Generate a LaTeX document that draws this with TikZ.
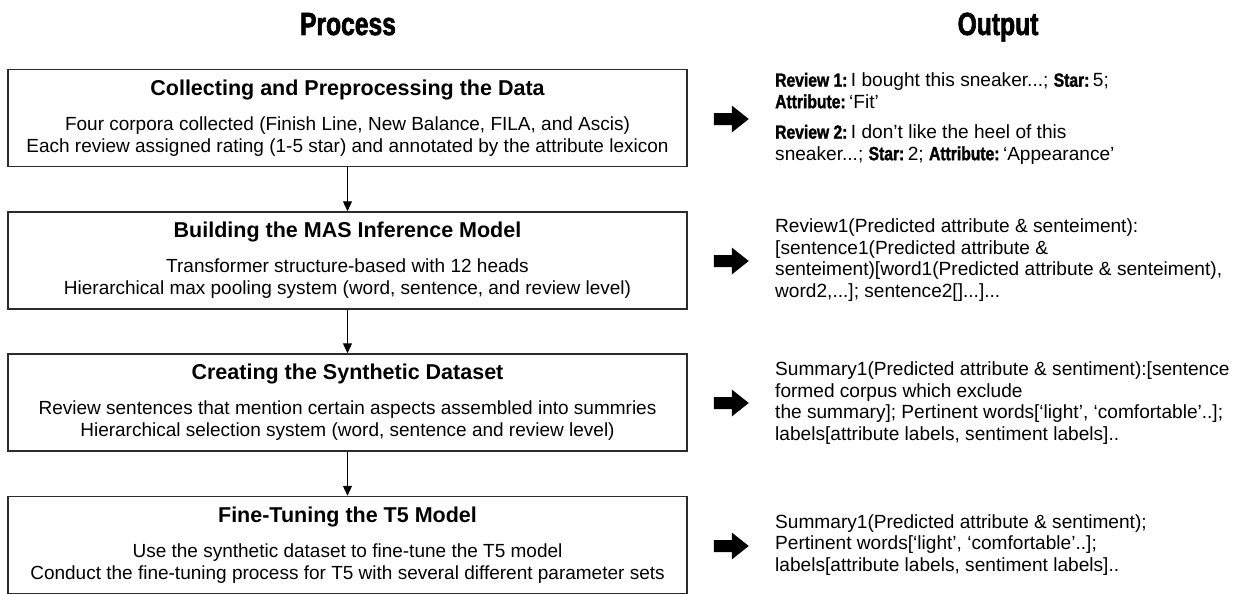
\documentclass[tikz,border=0pt]{standalone}
\usepackage{fontspec}
\setmainfont{Liberation Sans}
\newfontfamily\condf{Liberation Sans}[FakeStretch=0.82,FakeBold=1.5]
\newfontfamily\headf{Liberation Sans}[FakeStretch=0.77,FakeBold=2]
\usetikzlibrary{arrows.meta,calc}
\definecolor{boxgray}{HTML}{2B2B2B}
\newcommand\ttl[1]{{\fontsize{21.5}{22}\selectfont\bfseries #1}}
\newcommand\lb[1]{{\condf\bfseries #1}\hspace{3.5pt}}
\tikzset{
  procbox/.style={draw=boxgray, line width=1.5pt, minimum width=679pt, minimum height=97pt,
    align=center, inner sep=0pt, font=\fontsize{19}{22}\selectfont},
  flow/.style={draw=black, line width=1.2pt, -{Triangle[length=10pt,width=9pt]}},
  outtext/.style={anchor=west, align=left, inner sep=0pt, font=\fontsize{19.1}{21.5}\selectfont},
  header/.style={anchor=base, inner sep=0pt, font=\headf\bfseries\fontsize{32}{36}\selectfont},
  blockarrow/.pic={\fill[black] (0,-6) -- (18,-6) -- (18,-13.5) -- (35,0) -- (18,13.5) -- (18,6) -- (0,6) -- cycle;}
}
\begin{document}
\begin{tikzpicture}[x=1pt,y=-1pt]
\useasboundingbox[fill=white] (0,0) rectangle (1235,594);

\node[header] (hp) at (348,35) {Process};
\node[header] (ho) at (998,35) {Output};

\node[procbox] (b1) at (347.5,118) {\ttl{Collecting and Preprocessing the Data}\\[13pt]
  Four corpora collected (Finish Line, New Balance, FILA, and Ascis)\\
  Each review assigned rating (1-5 star) and annotated by the attribute lexicon};
\node[procbox] (b2) at (347.5,260.5) {\ttl{Building the MAS Inference Model}\\[13pt]
  Transformer structure-based with 12 heads\\
  Hierarchical max pooling system (word, sentence, and review level)};
\node[procbox] (b3) at (347.5,402.5) {\ttl{Creating the Synthetic Dataset}\\[13pt]
  Review sentences that mention certain aspects assembled into summries\\
  Hierarchical selection system (word, sentence and review level)};
\node[procbox] (b4) at (347.5,545) {\ttl{Fine-Tuning the T5 Model}\\[13pt]
  Use the synthetic dataset to fine-tune the T5 model\\
  Conduct the fine-tuning process for T5 with several different parameter sets};

\draw[flow] (b1.south) -- (b2.north);
\draw[flow] (b2.south) -- (b3.north);
\draw[flow] (b3.south) -- (b4.north);

\pic at ($(b1.east)+(26,1)$) {blockarrow};
\pic at ($(b2.east)+(26,0.5)$) {blockarrow};
\pic at ($(b3.east)+(26,0.5)$) {blockarrow};
\pic at ($(b4.east)+(26,1)$) {blockarrow};

\node[outtext] (o1) at (775,118.5) {\lb{Review 1:}I bought this sneaker...; \lb{Star:}5;\\
  \lb{Attribute:}‘Fit’\\[9pt]
  \lb{Review 2:}I don’t like the heel of this\\
  sneaker...; \lb{Star:}2; \lb{Attribute:}‘Appearance’};
\node[outtext] (o2) at (775,260) {Review1(Predicted attribute \& senteiment):\\
  {[}sentence1(Predicted attribute \&\\
  senteiment)[word1(Predicted attribute \& senteiment),\\
  word2,...]; sentence2[]...]...};
\node[outtext] (o3) at (775,403) {Summary1(Predicted attribute \& sentiment):[sentence\\
  formed corpus which exclude\\
  the summary]; Pertinent words[‘light’, ‘comfortable’..];\\
  labels[attribute labels, sentiment labels]..};
\node[outtext] (o4) at (775,545) {Summary1(Predicted attribute \& sentiment);\\
  Pertinent words[‘light’, ‘comfortable’..];\\
  labels[attribute labels, sentiment labels]..};
\end{tikzpicture}
\end{document}
